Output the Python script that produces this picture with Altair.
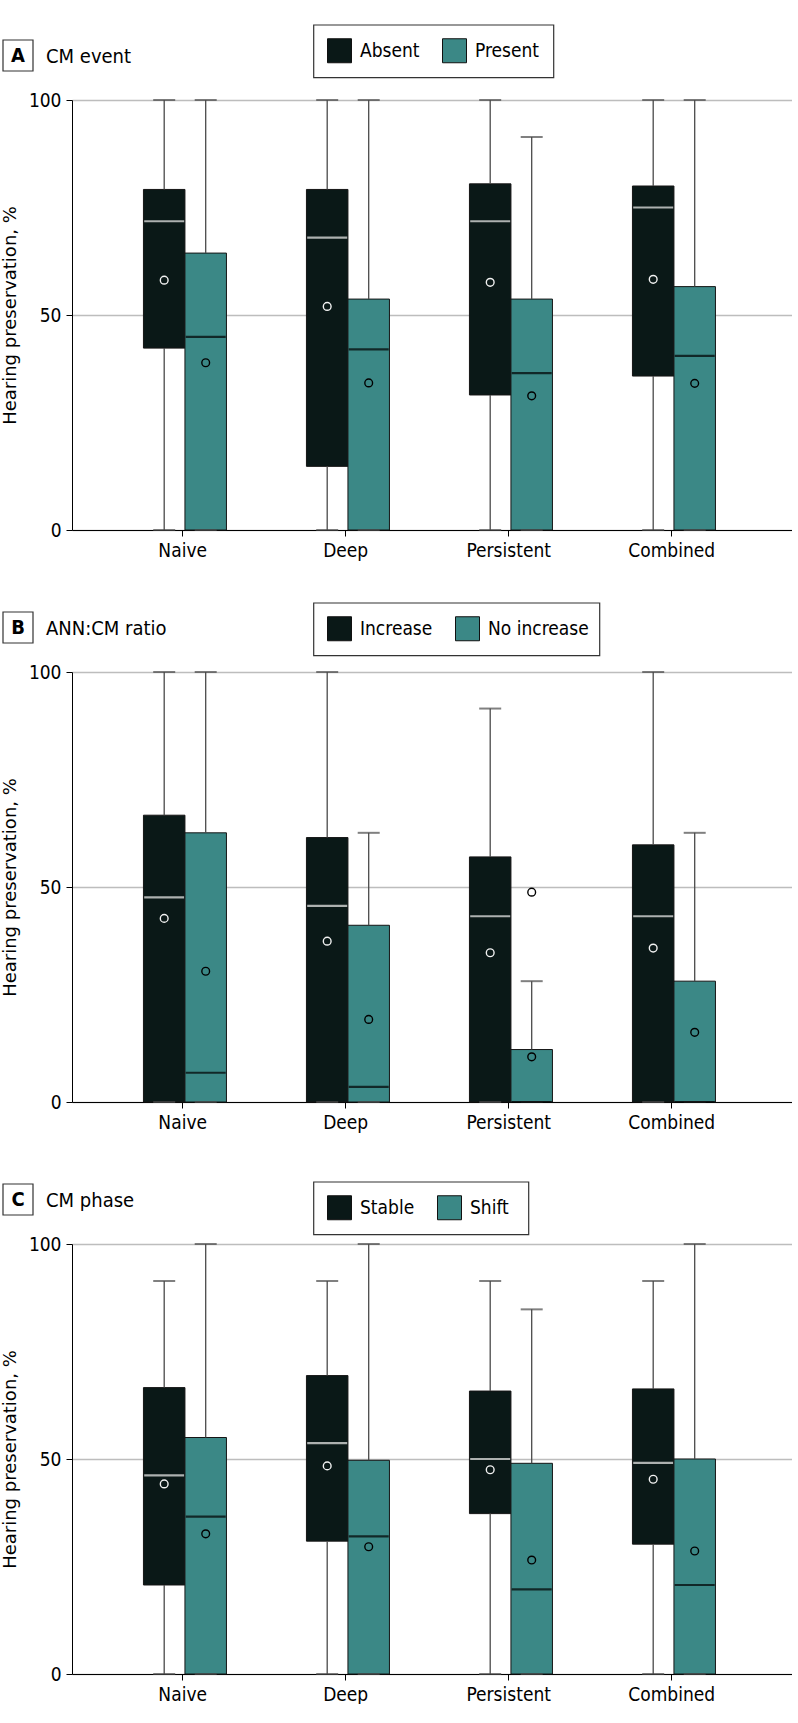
import altair as alt
import pandas as pd

cats = ["Naive", "Deep", "Persistent", "Combined"]
letters = ["A", "B", "C"]
titles = ["CM event", "ANN:CM ratio", "CM phase"]
groups = [["Absent", "Present"], ["Increase", "No increase"], ["Stable", "Shift"]]

# Panel A
A_g1_lo = [0, 0, 0, 0]
A_g1_q1 = [42.3, 14.8, 31.4, 35.8]
A_g1_med = [71.8, 68.0, 71.8, 75.0]
A_g1_q3 = [79.2, 79.2, 80.5, 80.0]
A_g1_hi = [100, 100, 100, 100]
A_g1_mean = [58.1, 52.0, 57.6, 58.3]
A_g2_lo = [0, 0, 0, 0]
A_g2_q1 = [0, 0, 0, 0]
A_g2_med = [44.9, 42.0, 36.5, 40.5]
A_g2_q3 = [64.4, 53.7, 53.7, 56.6]
A_g2_hi = [100, 100, 91.4, 100]
A_g2_mean = [38.9, 34.2, 31.2, 34.1]

# Panel B
B_g1_lo = [0, 0, 0, 0]
B_g1_q1 = [0, 0, 0, 0]
B_g1_med = [47.6, 45.6, 43.2, 43.2]
B_g1_q3 = [66.7, 61.5, 57.0, 59.8]
B_g1_hi = [100, 100, 91.5, 100]
B_g1_mean = [42.7, 37.4, 34.7, 35.8]
B_g2_lo = [0, 0, 0, 0]
B_g2_q1 = [0, 0, 0, 0]
B_g2_med = [6.8, 3.5, 0, 0]
B_g2_q3 = [62.6, 41.1, 12.2, 28.1]
B_g2_hi = [100, 62.6, 28.1, 62.6]
B_g2_mean = [30.4, 19.2, 10.5, 16.2]
B_out_cat = ["Persistent"]
B_out_grp = ["No increase"]
B_out_val = [48.8]

# Panel C
C_g1_lo = [0, 0, 0, 0]
C_g1_q1 = [20.7, 30.9, 37.3, 30.2]
C_g1_med = [46.2, 53.7, 50.0, 49.1]
C_g1_q3 = [66.6, 69.4, 65.8, 66.3]
C_g1_hi = [91.4, 91.4, 91.4, 91.4]
C_g1_mean = [44.2, 48.4, 47.5, 45.3]
C_g2_lo = [0, 0, 0, 0]
C_g2_q1 = [0, 0, 0, 0]
C_g2_med = [36.6, 32.0, 19.7, 20.7]
C_g2_q3 = [55.0, 49.7, 49.0, 50.0]
C_g2_hi = [100, 100, 84.8, 100]
C_g2_mean = [32.6, 29.6, 26.5, 28.6]

stats = {
    "A": [(A_g1_lo, A_g1_q1, A_g1_med, A_g1_q3, A_g1_hi, A_g1_mean),
          (A_g2_lo, A_g2_q1, A_g2_med, A_g2_q3, A_g2_hi, A_g2_mean)],
    "B": [(B_g1_lo, B_g1_q1, B_g1_med, B_g1_q3, B_g1_hi, B_g1_mean),
          (B_g2_lo, B_g2_q1, B_g2_med, B_g2_q3, B_g2_hi, B_g2_mean)],
    "C": [(C_g1_lo, C_g1_q1, C_g1_med, C_g1_q3, C_g1_hi, C_g1_mean),
          (C_g2_lo, C_g2_q1, C_g2_med, C_g2_q3, C_g2_hi, C_g2_mean)],
}
outliers = {"B": (B_out_cat, B_out_grp, B_out_val)}

DARK = "#0a1817"
TEAL = "#3b8886"
MARKCOL = ["#f2f2f2", "#000000"]
COND = "DejaVu Sans Condensed, Roboto"
legend_y = [-75, -69, -62]
legend_w = [240, 286, 215]
BOXW = 41.5
GROUP_SHIFT = [-18.5, 23.0]   # pixel shift of each group's box from the category tick

W, H = 720, 430


def panel(i):
    key = letters[i]
    grps = groups[i]
    rows = []
    for gi, g in enumerate(grps):
        lo, q1, med, q3, hi, mean = stats[key][gi]
        for ci, c in enumerate(cats):
            rows.append(dict(cat=c, grp=g, lo=lo[ci], q1=q1[ci], med=med[ci],
                             q3=q3[ci], hi=hi[ci], mean=mean[ci], mcol=MARKCOL[gi]))
    df = pd.DataFrame(rows)

    xenc = alt.X("cat:N", sort=cats,
                 scale=alt.Scale(paddingInner=0, paddingOuter=0.2086, align=0.4294),
                 axis=alt.Axis(title=None, labelAngle=0, labelFont=COND, labelFontSize=19,
                               labelColor="black", domainColor="black", tickColor="black",
                               tickSize=6, labelPadding=5, grid=False))
    yscale = alt.Scale(domain=[0, 100], nice=False)
    yaxis = alt.Axis(values=[0, 50, 100], title="Hearing preservation, %",
                     titleFont="DejaVu Sans", titleFontSize=18, titleFontWeight="normal",
                     titleColor="black", titlePadding=9,
                     labelFont=COND, labelFontSize=19, labelColor="black",
                     domainColor="black", tickColor="black", tickSize=6, labelPadding=5,
                     grid=True, gridColor="#bdbdbd", gridWidth=1.5)

    def Y(f):
        return alt.Y(f"{f}:Q", scale=yscale, axis=yaxis)

    fill_legend = alt.Legend(title=None, orient="none", legendX=242,
                             legendY=legend_y[i], direction="horizontal",
                             symbolType="square", symbolSize=576,
                             symbolStrokeColor="#111", symbolStrokeWidth=1,
                             symbolOpacity=1,
                             labelFont=COND, labelFontSize=19, labelColor="black",
                             labelOffset=8, columnPadding=20, padding=13)
    fill = alt.Fill("grp:N", sort=grps, scale=alt.Scale(domain=grps, range=[DARK, TEAL]),
                    legend=fill_legend)
    mcol = alt.Color("mcol:N", scale=None)

    layers = []
    for gi, g in enumerate(grps):
        dx = GROUP_SHIFT[gi]
        sub = alt.Chart(df).transform_filter(alt.datum.grp == g)
        layers += [
            sub.mark_bar(stroke="#151515", strokeWidth=1, width=BOXW, xOffset=dx).encode(
                x=xenc, y=Y("q1"), y2="q3", fill=fill),
            sub.mark_rule(color="#4a4a4a", strokeWidth=1.3, xOffset=dx).encode(
                x=xenc, y=Y("q3"), y2="hi"),
            sub.mark_rule(color="#4a4a4a", strokeWidth=1.3, xOffset=dx).encode(
                x=xenc, y=Y("lo"), y2="q1"),
            sub.mark_tick(color="#4a4a4a", size=22, thickness=2, xOffset=dx).encode(
                x=xenc, y=Y("hi")),
            sub.mark_tick(color="#4a4a4a", size=22, thickness=2, xOffset=dx).encode(
                x=xenc, y=Y("lo")),
            sub.mark_tick(size=BOXW - 1.5, thickness=2.2, xOffset=dx).encode(
                x=xenc, y=Y("med"), color=mcol),
            sub.mark_point(shape="circle", size=60, strokeWidth=1.4, filled=False,
                           opacity=1, xOffset=dx).encode(
                x=xenc, y=Y("mean"), color=mcol),
        ]

    if key in outliers:
        oc, og, ov = outliers[key]
        for gi, g in enumerate(grps):
            vals = [(c, v) for c, gg, v in zip(oc, og, ov) if gg == g]
            if not vals:
                continue
            odf = pd.DataFrame({"cat": [c for c, _ in vals], "val": [v for _, v in vals],
                                "mcol": [MARKCOL[gi]] * len(vals)})
            layers.append(alt.Chart(odf).mark_point(shape="circle", size=60, strokeWidth=1.4,
                                                    filled=False, opacity=1,
                                                    xOffset=GROUP_SHIFT[gi]).encode(
                x=xenc, y=Y("val"), color=mcol))

    tdf = pd.DataFrame({"letter": [key], "title": [titles[i]]})
    tbase = alt.Chart(tdf)
    lframe = tbase.mark_rect(filled=False, stroke="#333", strokeWidth=1.2).encode(
        x=alt.value(241.7), x2=alt.value(241.7 + legend_w[i]),
        y=alt.value(legend_y[i]), y2=alt.value(legend_y[i] + 52.7))
    lbox = tbase.mark_rect(fill="white", stroke="#333", strokeWidth=1.2).encode(
        x=alt.value(-69), x2=alt.value(-39), y=alt.value(-60), y2=alt.value(-29))
    ltext = tbase.mark_text(font=COND, fontSize=20, fontWeight="bold", color="black",
                            align="center", baseline="middle").encode(
        x=alt.value(-54), y=alt.value(-44), text="letter:N")
    ttext = tbase.mark_text(font=COND, fontSize=20, color="black",
                            align="left", baseline="alphabetic").encode(
        x=alt.value(-26), y=alt.value(-37), text="title:N")
    layers += [lframe, lbox, ltext, ttext]

    return alt.layer(*layers).properties(width=W, height=H)


chart = alt.vconcat(panel(0), panel(1), panel(2), spacing=142, bounds="flush").properties(
    padding={"top": 24, "left": 1, "right": 0, "bottom": 0}
).configure_view(strokeWidth=0).resolve_scale(fill="independent")

chart.save("out.html", embed_options={"renderer": "svg", "actions": False})
